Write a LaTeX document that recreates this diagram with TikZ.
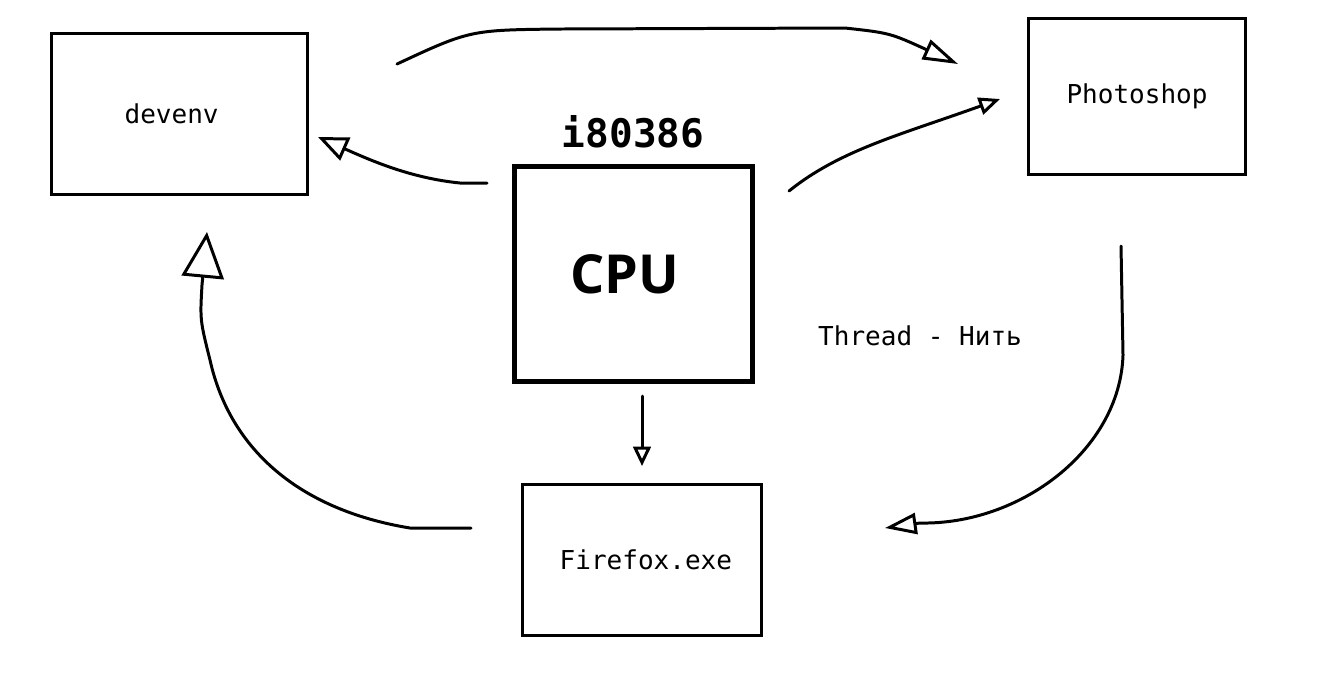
\documentclass[tikz,border=0pt]{standalone}
\usepackage{fontspec}
\setmainfont{DejaVu Sans Mono}
\newfontfamily\cpufont{Open Sans}
\usetikzlibrary{arrows.meta,positioning}

\begin{document}
\begin{tikzpicture}[
    x=0.01cm, y=-0.01cm,
    proc/.style={rectangle, draw=black, line width=0.85pt, inner sep=0pt, font=\fontsize{7.4}{9}\selectfont},
    cpu/.style={rectangle, draw=black, line width=1.4pt, inner sep=0pt, font=\cpufont\bfseries\fontsize{15.3}{18}\selectfont},
    note/.style={inner sep=0pt, font=\fontsize{7.4}{9}\selectfont},
    arrow/.style 2 args={-{Triangle[open, length=#1, width=#2]}, line width=0.85pt, line cap=round, line join=round},
]
    \useasboundingbox (0,0) rectangle (1340,684);

    % Processes
    \node[proc, minimum width=2.55cm, minimum height=1.60cm] (devenv) at (179.5,114) {devenv\hspace{4.5pt}\null};
    \node[proc, minimum width=2.16cm, minimum height=1.55cm] (ps) at (1137,96.5) {Photoshop};
    \node[proc, minimum width=2.38cm, minimum height=1.50cm] (ff) at (642,560) {\hspace{2.2pt}Firefox.exe};

    % CPU
    \node[cpu, minimum width=2.37cm, minimum height=2.14cm] (cpu) at (633.5,274) {CPU\hspace{5pt}\null};
    \node[note, font=\bfseries\fontsize{11.2}{13}\selectfont] (chip) at (633,132) {i80386};
    \node[note] (thread) at (920,336) {Thread - Нить};

    % Free ends of the strokes
    \coordinate (cpuL) at (487,183);
    \coordinate (devR) at (318,137);
    \coordinate (devT) at (397,64);
    \coordinate (psL) at (958,64);
    \coordinate (cpuR) at (789,191);
    \coordinate (psB) at (1000,99);
    \coordinate (psD) at (1121,246);
    \coordinate (ffR) at (885,528);
    \coordinate (ffL) at (471,528);
    \coordinate (devB) at (207,232);
    \coordinate (cpuD) at (642,396);
    \coordinate (ffT) at (642,466);

    % Strokes
    \draw[arrow={8.5pt}{7pt}] (cpuL) -- (460,183) .. controls (410,178) and (370,160) .. (devR);
    \draw[arrow={10pt}{6pt}] (devT) .. controls (470,30) .. (560,29) -- (845,28) .. controls (890,33) .. (psL);
    \draw[arrow={6pt}{5pt}] (cpuR) .. controls (840,150) and (900,135) .. (psB);
    \draw[arrow={9pt}{6pt}] (psD) -- (1123,355) .. controls (1120,450) and (1020,525) .. (920,523) -- (ffR);
    \draw[arrow={13pt}{12pt}] (ffL) -- (410,528) .. controls (300,510) and (230,450) .. (210,360) .. controls (200,320) .. (202,285) -- (devB);
    \draw[arrow={5.5pt}{5pt}] (cpuD) -- (ffT);
\end{tikzpicture}
\end{document}
